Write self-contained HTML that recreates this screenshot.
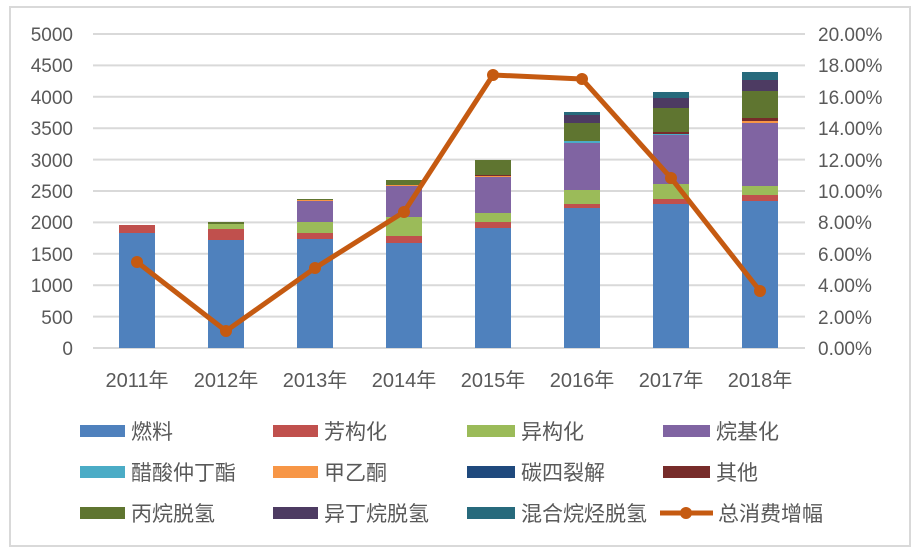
<!DOCTYPE html>
<html><head><meta charset="utf-8"><style>
body{margin:0;background:#fff;}
svg text{font-family:"Liberation Sans","Noto Sans CJK SC",sans-serif;fill:#595959;}
</style></head><body>
<svg width="918" height="554" xmlns="http://www.w3.org/2000/svg">
<rect x="10" y="7" width="900" height="539" fill="#fff" stroke="#d9d9d9" stroke-width="2"/>
<g stroke="#d9d9d9" stroke-width="2">
<line x1="93" x2="805" y1="34" y2="34"/><line x1="93" x2="805" y1="65.4" y2="65.4"/>
<line x1="93" x2="805" y1="96.8" y2="96.8"/><line x1="93" x2="805" y1="128.2" y2="128.2"/>
<line x1="93" x2="805" y1="159.6" y2="159.6"/><line x1="93" x2="805" y1="191" y2="191"/>
<line x1="93" x2="805" y1="222.4" y2="222.4"/><line x1="93" x2="805" y1="253.8" y2="253.8"/>
<line x1="93" x2="805" y1="285.2" y2="285.2"/><line x1="93" x2="805" y1="316.6" y2="316.6"/>
<line x1="93" x2="805" y1="348" y2="348"/>
</g>
<g font-size="19" text-anchor="end">
<text x="73" y="41">5000</text><text x="73" y="72">4500</text><text x="73" y="104">4000</text>
<text x="73" y="135">3500</text><text x="73" y="167">3000</text><text x="73" y="198">2500</text>
<text x="73" y="229">2000</text><text x="73" y="261">1500</text><text x="73" y="292">1000</text>
<text x="73" y="324">500</text><text x="73" y="355">0</text>
</g>
<g font-size="19" textLength="80">
<text x="818" y="41">20.00%</text><text x="818" y="72">18.00%</text><text x="818" y="104">16.00%</text>
<text x="818" y="135">14.00%</text><text x="818" y="167">12.00%</text><text x="818" y="198">10.00%</text>
<text x="818" y="229">8.00%</text><text x="818" y="261">6.00%</text><text x="818" y="292">4.00%</text>
<text x="818" y="324">2.00%</text><text x="818" y="355">0.00%</text>
</g>
<g font-size="20" text-anchor="middle">
<text x="137" y="387">2011年</text><text x="226" y="387">2012年</text><text x="315" y="387">2013年</text>
<text x="404" y="387">2014年</text><text x="493" y="387">2015年</text><text x="582" y="387">2016年</text>
<text x="671" y="387">2017年</text><text x="760" y="387">2018年</text>
</g>
<g>
<rect x="119" y="233" width="36" height="115" fill="#4f81bd"/>
<rect x="119" y="225" width="36" height="8" fill="#c0504d"/>
<rect x="208" y="240" width="36" height="108" fill="#4f81bd"/>
<rect x="208" y="229" width="36" height="11" fill="#c0504d"/>
<rect x="208" y="224" width="36" height="5" fill="#9bbb59"/>
<rect x="208" y="222" width="36" height="2" fill="#5f7530"/>
<rect x="297" y="239" width="36" height="109" fill="#4f81bd"/>
<rect x="297" y="233" width="36" height="6" fill="#c0504d"/>
<rect x="297" y="222" width="36" height="11" fill="#9bbb59"/>
<rect x="297" y="201" width="36" height="21" fill="#8064a2"/>
<rect x="297" y="200" width="36" height="1" fill="#f79646"/>
<rect x="297" y="199" width="36" height="1" fill="#5f7530"/>
<rect x="386" y="243" width="36" height="105" fill="#4f81bd"/>
<rect x="386" y="236" width="36" height="7" fill="#c0504d"/>
<rect x="386" y="217" width="36" height="19" fill="#9bbb59"/>
<rect x="386" y="186" width="36" height="31" fill="#8064a2"/>
<rect x="386" y="185" width="36" height="1" fill="#f79646"/>
<rect x="386" y="180" width="36" height="5" fill="#5f7530"/>
<rect x="475" y="228" width="36" height="120" fill="#4f81bd"/>
<rect x="475" y="222" width="36" height="6" fill="#c0504d"/>
<rect x="475" y="213" width="36" height="9" fill="#9bbb59"/>
<rect x="475" y="177" width="36" height="36" fill="#8064a2"/>
<rect x="475" y="176" width="36" height="1" fill="#f79646"/>
<rect x="475" y="175" width="36" height="1" fill="#772c2a"/>
<rect x="475" y="160" width="36" height="15" fill="#5f7530"/>
<rect x="564" y="208" width="36" height="140" fill="#4f81bd"/>
<rect x="564" y="204" width="36" height="4" fill="#c0504d"/>
<rect x="564" y="190" width="36" height="14" fill="#9bbb59"/>
<rect x="564" y="143" width="36" height="47" fill="#8064a2"/>
<rect x="564" y="141" width="36" height="2" fill="#4bacc6"/>
<rect x="564" y="123" width="36" height="18" fill="#5f7530"/>
<rect x="564" y="115" width="36" height="8" fill="#4d3b62"/>
<rect x="564" y="112" width="36" height="3" fill="#276a7c"/>
<rect x="653" y="204" width="36" height="144" fill="#4f81bd"/>
<rect x="653" y="199" width="36" height="5" fill="#c0504d"/>
<rect x="653" y="184" width="36" height="15" fill="#9bbb59"/>
<rect x="653" y="135" width="36" height="49" fill="#8064a2"/>
<rect x="653" y="134" width="36" height="1" fill="#4bacc6"/>
<rect x="653" y="132" width="36" height="2" fill="#772c2a"/>
<rect x="653" y="108" width="36" height="24" fill="#5f7530"/>
<rect x="653" y="98" width="36" height="10" fill="#4d3b62"/>
<rect x="653" y="92" width="36" height="6" fill="#276a7c"/>
<rect x="742" y="201" width="36" height="147" fill="#4f81bd"/>
<rect x="742" y="195" width="36" height="6" fill="#c0504d"/>
<rect x="742" y="186" width="36" height="9" fill="#9bbb59"/>
<rect x="742" y="123" width="36" height="63" fill="#8064a2"/>
<rect x="742" y="121" width="36" height="2" fill="#f79646"/>
<rect x="742" y="118" width="36" height="3" fill="#772c2a"/>
<rect x="742" y="91" width="36" height="27" fill="#5f7530"/>
<rect x="742" y="80" width="36" height="11" fill="#4d3b62"/>
<rect x="742" y="72" width="36" height="8" fill="#276a7c"/>
</g>
<polyline points="137,262 226,331 315,268 404,212 493,75 582,79 671,178 760,291" fill="none" stroke="#c55a11" stroke-width="5" stroke-linejoin="round"/>
<g fill="#c55a11">
<circle cx="137" cy="262" r="6"/><circle cx="226" cy="331" r="6"/><circle cx="315" cy="268" r="6"/>
<circle cx="404" cy="212" r="6"/><circle cx="493" cy="75" r="6"/><circle cx="582" cy="79" r="6"/>
<circle cx="671" cy="178" r="6"/><circle cx="760" cy="291" r="6"/>
</g>
<g font-size="21">
<rect x="80" y="425" width="45" height="12" fill="#4f81bd"/><text x="131" y="439">燃料</text>
<rect x="273" y="425" width="45" height="12" fill="#c0504d"/><text x="324" y="439">芳构化</text>
<rect x="467" y="425" width="48" height="12" fill="#9bbb59"/><text x="521" y="439">异构化</text>
<rect x="663" y="425" width="47" height="12" fill="#8064a2"/><text x="716" y="439">烷基化</text>

<rect x="80" y="466" width="45" height="12" fill="#4bacc6"/><text x="131" y="480">醋酸仲丁酯</text>
<rect x="273" y="466" width="45" height="12" fill="#f79646"/><text x="324" y="480">甲乙酮</text>
<rect x="467" y="466" width="48" height="12" fill="#1f497d"/><text x="521" y="480">碳四裂解</text>
<rect x="663" y="466" width="47" height="12" fill="#772c2a"/><text x="716" y="480">其他</text>

<rect x="80" y="507" width="45" height="12" fill="#5f7530"/><text x="131" y="521">丙烷脱氢</text>
<rect x="273" y="507" width="45" height="12" fill="#4d3b62"/><text x="324" y="521">异丁烷脱氢</text>
<rect x="467" y="507" width="48" height="12" fill="#276a7c"/><text x="521" y="521">混合烷烃脱氢</text>
<line x1="660" y1="513" x2="713" y2="513" stroke="#c55a11" stroke-width="5"/><circle cx="686" cy="513" r="6" fill="#c55a11"/>
<text x="718" y="521">总消费增幅</text>
</g>
</svg>
</body></html>
